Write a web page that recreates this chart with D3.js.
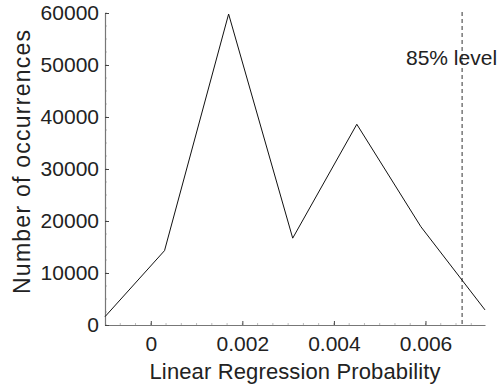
<!DOCTYPE html>
<html>
<head>
<meta charset="utf-8">
<script src="https://cdn.jsdelivr.net/npm/d3@7"></script>
<style>
  body { margin: 0; background: #fff; }
  svg { display: block; font-family: "Liberation Sans", Arial, sans-serif; }
</style>
</head>
<body>
<svg id="chart" width="503" height="386"></svg>
<script>
// probability bins and counts
const probs = [-0.001, 0.0003, 0.0017, 0.0031, 0.0045, 0.0059, 0.0073];
const counts = [1600, 14300, 59800, 16700, 38600, 18900, 2900];
const xTicks = [0, 0.002, 0.004, 0.006];
const yTicks = [0, 10000, 20000, 30000, 40000, 50000, 60000];
const level85 = 0.0068;

const width = 503, height = 386;
const margin = { top: 13, right: 18, bottom: 61, left: 105 };

const svg = d3.select('#chart');

const x = d3.scaleLinear()
  .domain([-0.001, 0.0073])
  .range([margin.left, width - margin.right]);

const y = d3.scaleLinear()
  .domain([0, 60000])
  .range([height - margin.bottom, margin.top]);

// minor ticks (faint)
const xMinor = d3.range(-6, 23).map(i => i * 0.002 / 6).filter(v => v > -0.001 && v < 0.0073);
svg.append('g')
  .selectAll('line')
  .data(xMinor)
  .join('line')
  .attr('x1', d => x(d)).attr('x2', d => x(d))
  .attr('y1', y(0)).attr('y2', y(0) - 2)
  .attr('stroke', '#bbb');

const yMinor = d3.range(0, 60001, 2500);
svg.append('g')
  .selectAll('line')
  .data(yMinor)
  .join('line')
  .attr('x1', x(-0.001)).attr('x2', x(-0.001) + 2)
  .attr('y1', d => y(d)).attr('y2', d => y(d))
  .attr('stroke', '#bbb');

// x axis, ticks pointing inward
const xAxis = svg.append('g')
  .attr('transform', `translate(0,${y(0)})`)
  .call(d3.axisBottom(x).tickValues(xTicks).tickFormat(d3.format('')).tickSizeInner(-4).tickSizeOuter(0));

const yAxis = svg.append('g')
  .attr('transform', `translate(${x(-0.001)},0)`)
  .call(d3.axisLeft(y).tickValues(yTicks).tickFormat(d3.format('d')).tickSizeInner(-4).tickSizeOuter(0));

[xAxis, yAxis].forEach(g => {
  g.select('.domain').attr('stroke', '#777').attr('stroke-width', 1.2);
  g.selectAll('.tick line').attr('stroke', '#444');
  g.selectAll('.tick text')
    .attr('fill', '#222')
    .style('font-size', '21px')
    .style('font-family', '"Liberation Sans", Arial, sans-serif');
});
xAxis.selectAll('.tick text').attr('y', 11);
yAxis.selectAll('.tick text').attr('x', -6);

// 85% level marker
svg.append('line')
  .attr('x1', x(level85)).attr('x2', x(level85))
  .attr('y1', margin.top - 1).attr('y2', y(0))
  .attr('stroke', '#333')
  .attr('stroke-width', 1)
  .attr('stroke-dasharray', '4,3');

svg.append('text')
  .attr('x', 406)
  .attr('y', 65)
  .attr('fill', '#222')
  .style('font-size', '21px')
  .text('85% level');

// distribution line
const line = d3.line()
  .x((d, i) => x(probs[i]))
  .y(d => y(d));

svg.append('path')
  .datum(counts)
  .attr('d', line)
  .attr('fill', 'none')
  .attr('stroke', '#111')
  .attr('stroke-width', 1);

// axis titles
svg.append('text')
  .attr('x', 295)
  .attr('y', 379)
  .attr('text-anchor', 'middle')
  .attr('fill', '#222')
  .style('font-size', '22px')
  .attr('textLength', 291)
  .text('Linear Regression Probability');

svg.append('text')
  .attr('transform', 'translate(30,162) rotate(-90)')
  .attr('text-anchor', 'middle')
  .attr('fill', '#222')
  .style('font-size', '23px')
  .attr('textLength', 264)
  .text('Number of occurrences');
</script>
</body>
</html>
